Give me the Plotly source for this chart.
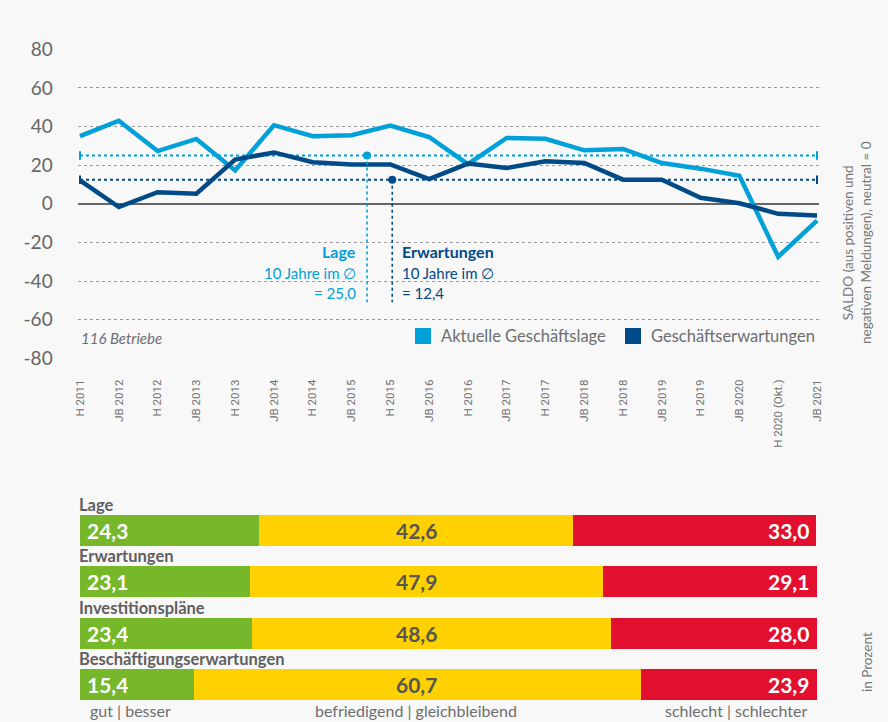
import plotly.graph_objects as go

# ---------------- data ----------------
periods = ["H 2011", "JB 2012", "H 2012", "JB 2013", "H 2013", "JB 2014", "H 2014",
           "JB 2015", "H 2015", "JB 2016", "H 2016", "JB 2017", "H 2017", "JB 2018",
           "H 2018", "JB 2019", "H 2019", "JB 2020", "H 2020 (Okt.)", "JB 2021"]
lage_values = [35.0, 43.0, 27.3, 33.6, 17.3, 40.7, 35.0, 35.5, 40.5, 34.6,
               20.5, 34.1, 33.7, 27.7, 28.4, 21.1, 18.2, 14.5, -27.4, -8.7]
erw_values = [12.1, -1.7, 6.0, 5.2, 22.9, 26.6, 21.5, 20.4, 20.4, 12.8,
              20.8, 18.5, 22.0, 21.1, 12.5, 12.5, 3.1, 0.3, -5.2, -6.1]
lage_avg = 25.0
erw_avg = 12.4
y_ticks = [80, 60, 40, 20, 0, -20, -40, -60, -80]

bar_categories = ["Lage", "Erwartungen", "Investitionspläne", "Beschäftigungserwartungen"]
gut_values = [24.3, 23.1, 23.4, 15.4]
mittel_values = [42.6, 47.9, 48.6, 60.7]
schlecht_values = [33.0, 29.1, 28.0, 23.9]

# ---------------- style ----------------
W, H = 888, 722
BG = "#f8f8f8"
LIGHT = "#00a0d8"
DARK = "#004a87"
GREEN = "#77b82a"
YELLOW = "#ffd100"
RED = "#e20f2f"
GRAY = "#666666"
FONT = "Lato"

def px(x):
    return x / W

def py(y):
    return 1 - y / H

def fmt(v):
    return f"{v:.1f}".replace(".", ",")

xs = list(range(len(periods)))

fig = go.Figure()

# top line chart
fig.add_trace(go.Scatter(x=xs, y=lage_values, mode="lines", name="Aktuelle Geschäftslage",
                         line=dict(color=LIGHT, width=4.5), xaxis="x", yaxis="y",
                         showlegend=False))
fig.add_trace(go.Scatter(x=xs, y=erw_values, mode="lines", name="Geschäftserwartungen",
                         line=dict(color=DARK, width=4.5), xaxis="x", yaxis="y",
                         showlegend=False))

# average markers
lage_dot_x = 7.4
erw_dot_x = 8.05
fig.add_trace(go.Scatter(x=[lage_dot_x], y=[lage_avg], mode="markers",
                         marker=dict(color=LIGHT, size=8), xaxis="x", yaxis="y",
                         showlegend=False, cliponaxis=False))
fig.add_trace(go.Scatter(x=[erw_dot_x], y=[erw_avg], mode="markers",
                         marker=dict(color=DARK, size=8), xaxis="x", yaxis="y",
                         showlegend=False, cliponaxis=False))

# bottom stacked bars
ys = list(range(len(bar_categories)))
for vals, col in [(gut_values, GREEN), (mittel_values, YELLOW), (schlecht_values, RED)]:
    fig.add_trace(go.Bar(x=vals, y=ys, orientation="h", marker=dict(color=col, line=dict(width=0)),
                         width=0.604, xaxis="x2", yaxis="y2", showlegend=False,
                         hoverinfo="x"))

shapes = []
annotations = []

# average lines
line_bottom = -51
for avg, col, dx in [(lage_avg, LIGHT, lage_dot_x), (erw_avg, DARK, erw_dot_x)]:
    shapes.append(dict(type="line", xref="x", yref="y", x0=0, x1=len(periods) - 1, y0=avg, y1=avg,
                       line=dict(color=col, width=2, dash="dot"), layer="below"))
    for xe in [0, len(periods) - 1]:
        shapes.append(dict(type="line", xref="x", yref="y", x0=xe, x1=xe, y0=avg - 2.2, y1=avg + 2.2,
                           line=dict(color=col, width=2)))
    shapes.append(dict(type="line", xref="x", yref="y", x0=dx, x1=dx, y0=avg, y1=line_bottom,
                       line=dict(color=col, width=1.6, dash="dot")))

# annotation texts for averages
for txt, yv, bold in [("Lage", -24.8, True), ("10 Jahre im ∅", -35.6, False),
                      ("= " + fmt(lage_avg), -46.0, False)]:
    annotations.append(dict(xref="x", yref="y", x=lage_dot_x, y=yv, xanchor="right", yanchor="middle",
                            xshift=-9, text=txt, showarrow=False,
                            font=dict(family=FONT, size=16 if bold else 15, color=LIGHT,
                                      weight="bold" if bold else "normal")))
for txt, yv, bold in [("Erwartungen", -24.8, True), ("10 Jahre im ∅", -35.6, False),
                      ("= " + fmt(erw_avg), -46.0, False)]:
    annotations.append(dict(xref="x", yref="y", x=erw_dot_x, y=yv, xanchor="left", yanchor="middle",
                            xshift=8, text=txt, showarrow=False,
                            font=dict(family=FONT, size=16 if bold else 15, color=DARK,
                                      weight="bold" if bold else "normal")))

# 116 Betriebe
annotations.append(dict(xref="paper", yref="paper", x=px(79), y=py(338), xanchor="left", yanchor="middle",
                        text="<i>116 Betriebe</i>", showarrow=False,
                        font=dict(family=FONT, size=15, color="#6e6e6e")))

# legend
for x0, col, txt in [(415, LIGHT, "Aktuelle Geschäftslage"), (625, DARK, "Geschäftserwartungen")]:
    shapes.append(dict(type="rect", xref="paper", yref="paper", x0=px(x0), x1=px(x0 + 16),
                       y0=py(344), y1=py(328), fillcolor=col, line=dict(width=0)))
    annotations.append(dict(xref="paper", yref="paper", x=px(x0 + 24), y=py(336.5), xanchor="left",
                            yanchor="middle", text=txt, showarrow=False,
                            font=dict(family=FONT, size=16.5, color="#6e6e6e")))

# right axis title
annotations.append(dict(xref="paper", yref="paper", x=px(857), y=py(243), xanchor="center", yanchor="middle",
                        text="SALDO (aus positiven und<br>negativen Meldungen), neutral = 0",
                        textangle=-90, showarrow=False,
                        font=dict(family=FONT, size=13.5, color="#777777")))
annotations.append(dict(xref="paper", yref="paper", x=px(867), y=py(662), xanchor="center", yanchor="middle",
                        text="in Prozent", textangle=-90, showarrow=False,
                        font=dict(family=FONT, size=13.5, color="#777777")))

# bar category labels and values
for i, cat in enumerate(bar_categories):
    annotations.append(dict(xref="x2", yref="y2", x=0, y=i - 0.302, xanchor="left", yanchor="bottom",
                            xshift=-3, yshift=-2, text=cat, showarrow=False,
                            font=dict(family=FONT, size=16.5, color="#5f5f5f", weight="bold")))
    annotations.append(dict(xref="x2", yref="y2", x=0, y=i, xanchor="left", yanchor="middle",
                            xshift=5, text=fmt(gut_values[i]), showarrow=False,
                            font=dict(family=FONT, size=21, color="white", weight="bold")))
    annotations.append(dict(xref="x2", yref="y2", x=45.6, y=i, xanchor="center", yanchor="middle",
                            text=fmt(mittel_values[i]), showarrow=False,
                            font=dict(family=FONT, size=21, color="#555555", weight="bold")))
    annotations.append(dict(xref="x2", yref="y2", x=100, y=i, xanchor="right", yanchor="middle",
                            xshift=-6, text=fmt(schlecht_values[i]), showarrow=False,
                            font=dict(family=FONT, size=21, color="white", weight="bold")))

# bottom legend texts
for xx, anchor, txt in [(88, "left", "gut | besser"), (416, "center", "befriedigend | gleichbleibend"),
                        (809, "right", "schlecht | schlechter")]:
    annotations.append(dict(xref="paper", yref="paper", x=px(xx), y=0, xanchor=anchor, yanchor="bottom",
                            text=txt, showarrow=False,
                            font=dict(family=FONT, size=16, color="#6e6e6e")))

# axis geometry
spacing = (817 - 80) / (len(periods) - 1)
pad = 0.06
x_left = 80 - pad * spacing
x_right = 817 + pad * spacing

fig.update_layout(
    template="none",
    width=W, height=H, autosize=False,
    margin=dict(l=0, r=0, t=0, b=0, pad=0),
    paper_bgcolor=BG, plot_bgcolor=BG,
    barmode="stack",
    showlegend=False,
    font=dict(family=FONT, color=GRAY),
    xaxis=dict(domain=[px(x_left), px(x_right)], range=[-pad, len(periods) - 1 + pad],
               tickvals=xs, ticktext=periods, tickangle=-90, showgrid=False, zeroline=False,
               showline=False, automargin=False,
               tickfont=dict(family="Roboto", size=11.5, color="#707070"),
               ticks="", ticklabelstandoff=18, anchor="y", fixedrange=True),
    yaxis=dict(domain=[py(358.3), py(49.3)], range=[-80, 80], tickvals=y_ticks,
               ticktext=[str(v) for v in y_ticks], automargin=False, showline=False,
               tickfont=dict(family=FONT, size=19, color="#666666"),
               showgrid=True, gridcolor="#9a9a9a", griddash="dot", gridwidth=1,
               zeroline=True, zerolinecolor="#666666", zerolinewidth=1.5,
               ticks="", ticklabelstandoff=24, anchor="x", fixedrange=True),
    xaxis2=dict(domain=[px(80), px(817)], range=[0, 100], visible=False, anchor="y2", fixedrange=True,
                automargin=False),
    yaxis2=dict(domain=[py(710.2), py(504.8)], range=[3.5, -0.5], visible=False, anchor="x2",
                fixedrange=True, automargin=False),
    shapes=shapes,
    annotations=annotations,
)

fig.write_html("out.html", config={"displayModeBar": False},
               post_script="document.body.style.margin='0';document.body.style.background='#f8f8f8';")
